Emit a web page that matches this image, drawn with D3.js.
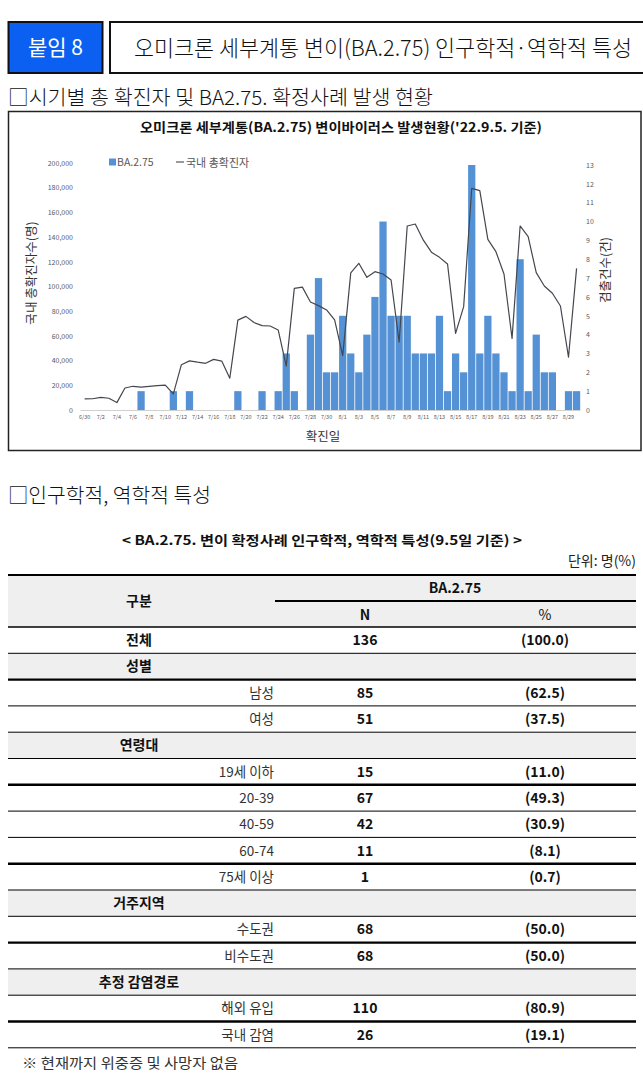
<!DOCTYPE html>
<html><head><meta charset="utf-8">
<script src="https://cdn.jsdelivr.net/npm/d3@7"></script>
<style>
html,body{margin:0;padding:0;background:#fff;}
svg{display:block;}
text{font-family:"Noto Sans CJK KR","Noto Sans",sans-serif;}
</style></head><body>
<svg id="c" width="643" height="1075"></svg>
<script>
// ---------------- DATA ----------------
const dates = ["6/30","7/1","7/2","7/3","7/4","7/5","7/6","7/7","7/8","7/9","7/10","7/11","7/12","7/13","7/14","7/15","7/16","7/17","7/18","7/19","7/20","7/21","7/22","7/23","7/24","7/25","7/26","7/27","7/28","7/29","7/30","7/31","8/1","8/2","8/3","8/4","8/5","8/6","8/7","8/8","8/9","8/10","8/11","8/12","8/13","8/14","8/15","8/16","8/17","8/18","8/19","8/20","8/21","8/22","8/23","8/24","8/25","8/26","8/27","8/28","8/29","8/30"];
const ba275 = [0,0,0,0,0,0,0,1,0,0,0,1,0,1,0,0,0,0,0,1,0,0,1,0,1,3,1,0,4,7,2,2,5,3,2,4,6,10,5,5,5,3,3,3,5,1,3,2,13,3,5,3,2,1,8,1,4,2,2,0,1,1];
const totalCases = [9000,9100,10200,9500,6000,17800,19200,18600,19200,19800,20200,13000,36700,39800,38700,37800,41000,39600,25800,72800,75800,70800,68300,68000,64800,35500,98500,99500,87500,84500,81000,73000,44000,111000,118800,107400,112000,110100,105300,55000,149000,150600,137500,127800,123600,118200,62000,83700,179500,177600,138200,128200,110100,58000,149000,140300,111200,100400,94500,84200,42700,114700];
const xTickLabels = ["6/30","7/2","7/4","7/6","7/8","7/10","7/12","7/14","7/16","7/18","7/20","7/22","7/24","7/26","7/28","7/30","8/1","8/3","8/5","8/7","8/9","8/11","8/13","8/15","8/17","8/19","8/21","8/23","8/25","8/27","8/29"];
const leftTicks = [0,20000,40000,60000,80000,100000,120000,140000,160000,180000,200000];
const rightTicks = [0,1,2,3,4,5,6,7,8,9,10,11,12,13];
const seriesNames = ["BA.2.75","국내 총확진자"];

const rowLabels = ["전체","성별","남성","여성","연령대","19세 이하","20-39","40-59","60-74","75세 이상","거주지역","수도권","비수도권","추정 감염경로","해외 유입","국내 감염"];
const rowKinds  = ["total","group","item","item","group","item","item","item","item","item","group","item","item","group","item","item"];
const rowN      = [136,null,85,51,null,15,67,42,11,1,null,68,68,null,110,26];
const rowPct    = [100.0,null,62.5,37.5,null,11.0,49.3,30.9,8.1,0.7,null,50.0,50.0,null,80.9,19.1];

// ---------------- DRAW ----------------
const svg = d3.select("#c");
const FONT = '"Noto Sans CJK KR","Noto Sans",sans-serif';

// Header
svg.append("rect").attr("x",8.5).attr("y",22).attr("width",94).attr("height",51)
  .attr("fill","#0b60f2").attr("stroke","#111").attr("stroke-width",2);
svg.append("text").attr("x",55.5).attr("y",55).attr("text-anchor","middle")
  .attr("fill","#fff").attr("font-size",21).attr("font-weight",400).text("붙임 8");
svg.append("rect").attr("x",110).attr("y",22).attr("width",545).attr("height",51)
  .attr("fill","#fff").attr("stroke","#111").attr("stroke-width",2);
svg.append("text").attr("x",134).attr("y",55.5).attr("font-size",22).attr("font-weight",300)
  .attr("fill","#111").attr("textLength",498).attr("lengthAdjust","spacingAndGlyphs")
  .text("오미크론 세부계통 변이(BA.2.75) 인구학적·역학적 특성");

svg.append("text").attr("x",8).attr("y",104.5).attr("font-size",20).attr("font-weight",300)
  .attr("fill","#111").attr("textLength",425).attr("lengthAdjust","spacingAndGlyphs")
  .text("□시기별 총 확진자 및 BA2.75. 확정사례 발생 현황");

// Chart frame
svg.append("rect").attr("x",8.5).attr("y",111.5).attr("width",632.5).attr("height",339)
  .attr("fill","#fff").attr("stroke","#222").attr("stroke-width",1.5);

svg.append("text").attr("x",140).attr("y",131.5).attr("font-size",13).attr("font-weight",700)
  .attr("fill","#111").attr("textLength",402).attr("lengthAdjust","spacingAndGlyphs")
  .text("오미크론 세부계통(BA.2.75) 변이바이러스 발생현황('22.9.5. 기준)");

const x = d3.scaleBand().domain(dates).range([80.6,580.6]).paddingInner(0.1).paddingOuter(0.05);
const yL = d3.scaleLinear().domain([0,200000]).range([410,163]);
const yR = d3.scaleLinear().domain([0,13]).range([410,165]);
const bw = x.bandwidth();

// bars
svg.append("g").selectAll("rect").data(dates).join("rect")
  .attr("x",d=>x(d)).attr("width",bw)
  .attr("y",(d,i)=>yR(ba275[i])).attr("height",(d,i)=>yR(0)-yR(ba275[i]))
  .attr("fill","#5592d5");

// baseline
svg.append("line").attr("x1",80.6).attr("x2",580.6).attr("y1",410.5).attr("y2",410.5)
  .attr("stroke","#d0d0d0").attr("stroke-width",1);

// line
const line = d3.line().x((d,i)=>x(dates[i])+bw/2).y(d=>yL(d));
svg.append("path").datum(totalCases).attr("d",line).attr("fill","none")
  .attr("stroke","#44474e").attr("stroke-width",1.2).attr("stroke-linejoin","round");

// axes
const gL = svg.append("g").attr("transform","translate(80,0)")
  .call(d3.axisLeft(yL).tickValues(leftTicks).tickSize(0).tickPadding(7).tickFormat(d3.format(",")));
const gR = svg.append("g").attr("transform","translate(580,0)")
  .call(d3.axisRight(yR).tickValues(rightTicks).tickSize(0).tickPadding(6));
const gB = svg.append("g").attr("transform","translate(0,410)")
  .call(d3.axisBottom(x).tickValues(xTickLabels).tickSize(0).tickPadding(5.5));
[gL,gR,gB].forEach(g=>{
  g.select(".domain").remove();
  g.selectAll("text").attr("fill","#595959").attr("font-family",FONT);
});
gL.selectAll("text").attr("font-size",7);
gR.selectAll("text").attr("font-size",7);
gB.selectAll("text").attr("font-size",5.5);

// axis titles
svg.append("text").attr("transform","translate(36,273) rotate(-90)").attr("text-anchor","middle")
  .attr("font-size",12.5).attr("fill","#333").text("국내 총확진자수(명)");
svg.append("text").attr("transform","translate(610,270) rotate(-90)").attr("text-anchor","middle")
  .attr("font-size",12.5).attr("fill","#333").text("검출건수(건)");
svg.append("text").attr("x",323).attr("y",441).attr("text-anchor","middle")
  .attr("font-size",12.5).attr("fill","#333").text("확진일");

// legend
svg.append("rect").attr("x",109).attr("y",158.5).attr("width",7).attr("height",7).attr("fill","#5592d5");
svg.append("text").attr("x",117).attr("y",166).attr("font-size",10.5).attr("fill","#595959").text(seriesNames[0]);
svg.append("line").attr("x1",176).attr("x2",184).attr("y1",162).attr("y2",162).attr("stroke","#595959").attr("stroke-width",1.2);
svg.append("text").attr("x",186).attr("y",166.5).attr("font-size",11).attr("fill","#595959").text(seriesNames[1]);

// ---------------- TABLE SECTION ----------------
svg.append("text").attr("x",8).attr("y",503).attr("font-size",20).attr("font-weight",300)
  .attr("fill","#111").attr("textLength",203).attr("lengthAdjust","spacingAndGlyphs")
  .text("□인구학적, 역학적 특성");

svg.append("text").attr("x",322).attr("y",545).attr("text-anchor","middle").attr("font-size",13).attr("font-weight",700)
  .attr("fill","#111").attr("textLength",400).attr("lengthAdjust","spacingAndGlyphs")
  .text("< BA.2.75. 변이 확정사례 인구학적, 역학적 특성(9.5일 기준) >");
svg.append("text").attr("x",636).attr("y",566).attr("text-anchor","end").attr("font-size",14)
  .attr("fill","#222").text("단위: 명(%)");

const tL = 8, tR = 636, tTop = 575, rowH = 26.3;
const colLabelR = 274, colN = 365, colP = 545, colGroup = 139;
const bodyTop = 627;

// header background
svg.append("rect").attr("x",tL).attr("y",tTop).attr("width",tR-tL).attr("height",bodyTop-tTop).attr("fill","#efefef");
// group row backgrounds
svg.append("g").selectAll("rect").data(rowLabels.map((d,i)=>i).filter(i=>rowKinds[i]==="group")).join("rect")
  .attr("x",tL).attr("width",tR-tL).attr("y",i=>bodyTop+i*rowH).attr("height",rowH).attr("fill","#efefef");

svg.append("text").attr("x",colGroup).attr("y",bodyTop-26+5).attr("text-anchor","middle").attr("font-size",14).attr("font-weight",700).attr("fill","#111").text("구분");
svg.append("text").attr("x",455).attr("y",593).attr("text-anchor","middle").attr("font-size",14).attr("font-weight",700).attr("fill","#111").text(seriesNames[0]);
svg.append("text").attr("x",colN).attr("y",620).attr("text-anchor","middle").attr("font-size",14).attr("font-weight",700).attr("fill","#111").text("N");
svg.append("text").attr("x",colP).attr("y",620).attr("text-anchor","middle").attr("font-size",14).attr("font-weight",400).attr("fill","#111").text("%");

// lines
const hline = (y,x1,x2,w)=>svg.append("line").attr("x1",x1).attr("x2",x2).attr("y1",y).attr("y2",y).attr("stroke","#000").attr("stroke-width",w);
hline(tTop,tL,tR,2.2);
hline(601,275,tR,2.2);
hline(bodyTop,tL,tR,1.3);
const thickAfter = [1,5,8,11,14];
rowLabels.forEach((d,i)=>{
  hline(bodyTop+(i+1)*rowH, tL, tR, thickAfter.includes(i)?2.4:1);
});

// row texts
const rowsG = svg.append("g");
rowLabels.forEach((lab,i)=>{
  const yc = bodyTop + i*rowH + rowH/2 + 5;
  const k = rowKinds[i];
  if (k==="item") {
    rowsG.append("text").attr("x",colLabelR).attr("y",yc).attr("text-anchor","end")
      .attr("font-size",13.5).attr("fill","#333").text(lab);
  } else {
    rowsG.append("text").attr("x",colGroup).attr("y",yc).attr("text-anchor","middle")
      .attr("font-size",14).attr("font-weight",700).attr("fill","#111").text(lab);
  }
  if (rowN[i]!==null) {
    rowsG.append("text").attr("x",colN).attr("y",yc).attr("text-anchor","middle")
      .attr("font-size",14).attr("font-weight",700).attr("fill","#111").text(rowN[i]);
    rowsG.append("text").attr("x",colP).attr("y",yc).attr("text-anchor","middle")
      .attr("font-size",14).attr("font-weight",700).attr("fill","#111").text("("+rowPct[i].toFixed(1)+")");
  }
});

svg.append("text").attr("x",22).attr("y",1068).attr("font-size",14).attr("fill","#333")
  .attr("textLength",216).attr("lengthAdjust","spacingAndGlyphs")
  .text("※ 현재까지 위중증 및 사망자 없음");
</script>
</body></html>
